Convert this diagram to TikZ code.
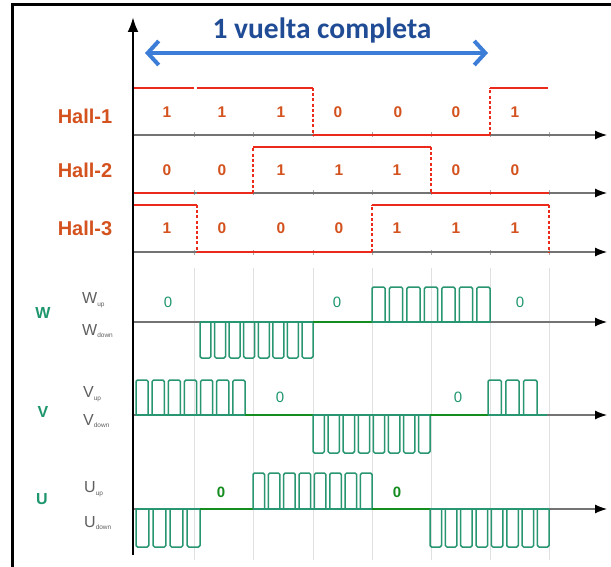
\documentclass[tikz,border=0pt]{standalone}
\usepackage{fontspec}
\setmainfont{Liberation Sans}
\newfontfamily\titlefont{Carlito}
\usetikzlibrary{arrows.meta}
\definecolor{hallred}{RGB}{236,42,28}
\definecolor{hallorange}{RGB}{212,82,30}
\definecolor{pwmteal}{RGB}{40,150,112}
\definecolor{zerogreen}{RGB}{20,140,30}
\definecolor{lblgreen}{RGB}{30,150,110}
\definecolor{titleblue}{RGB}{32,76,150}
\definecolor{arrowblue}{RGB}{60,125,215}
\definecolor{axisgray}{RGB}{115,115,115}
\definecolor{subgray}{RGB}{95,95,95}
\newcommand\pwmrun[5]{%
  \draw[pwm] (#1,#4) -- (#2,#4);
  \foreach \i in {1,...,#3}{%
    \pgfmathsetmacro\pp{(#2-#1)/(#3-0.25)}%
    \pgfmathsetmacro\xa{#1+(\i-1)*\pp}%
    \pgfmathsetmacro\xb{\xa+0.75*\pp}%
    \draw[pwm, rounded corners=1.5pt] (\xa,#4) -- (\xa,#5) -- (\xb,#5) -- (\xb,#4);
  }%
}
\tikzset{
  hall/.style={hallred, line width=2.4pt},
  halldash/.style={hallred, line width=2pt, dash pattern=on 3pt off 2.2pt},
  pwm/.style={pwmteal, line width=1.5pt, line join=round},
  zline/.style={zerogreen, line width=2.4pt},
  axisline/.style={axisgray, line width=1.2pt, -{Latex[length=12pt,width=9pt,color=black]}},
  hallnum/.style={text=hallorange, font=\fontsize{15.5}{15.5}\selectfont\bfseries},
  halllbl/.style={text=hallorange, font=\fontsize{20}{20}\selectfont\bfseries},
  phaselbl/.style={text=lblgreen, font=\fontsize{16}{16}\selectfont\bfseries},
  sublbl/.style={text=subgray, font=\fontsize{16}{16}\selectfont, anchor=west, inner sep=0pt},
  zerolbl/.style={text=lblgreen, font=\fontsize{15}{15}\selectfont},
  gridline/.style={black!12, line width=0.8pt}
}
\newcommand\sbs[1]{\raisebox{-2.5pt}{\fontsize{6.5}{6.5}\selectfont #1}}
\begin{document}
\begin{tikzpicture}[x=1pt,y=-1pt]
\useasboundingbox (0,0) rectangle (611,567);
\fill[white] (0,0) rectangle (611,567);
% frame
\draw[line width=3pt] (12,567) -- (12,5) -- (611,5);
% faint grid lines
\foreach \gx in {194,253,313,372,431,490,549}{
  \draw[gridline] (\gx,268) -- (\gx,560);
  \foreach \gy in {135,193,252}{ \draw[black!35, line width=0.8pt] (\gx,\gy-2.5) -- (\gx,\gy+2.5); }
}
% axes
\foreach \ay/\nm in {135/h1,193/h2,252/h3,322/w,415/v,509/u}{
  \coordinate (\nm s) at (133,\ay);
  \coordinate (\nm e) at (607,\ay);
  \draw[axisline] (\nm s) -- (\nm e);
}
% title & full-turn arrow
\node[text=titleblue, font=\titlefont\fontsize{29.5}{29.5}\selectfont\bfseries] (title) at (322,30) {1 vuelta completa};
\coordinate (turnL) at (145,53);
\coordinate (turnR) at (488,53);
\draw[arrowblue, line width=4pt, {Straight Barb[length=11pt,width=24pt]}-{Straight Barb[length=11pt,width=24pt]}] (turnL) -- (turnR);
% Hall-1
\draw[hall] (133,88) -- (194,88);
\draw[hall] (197,88) -- (313,88);
\draw[halldash] (313,88) -- (313,135);
\draw[hall] (313,135) -- (490,135);
\draw[halldash] (490,135) -- (490,88);
\draw[hall] (490,88) -- (548,88);
% Hall-2
\draw[hall] (133,193) -- (194,193);
\draw[hall] (197,193) -- (253,193);
\draw[halldash] (253,193) -- (253,147);
\draw[hall] (253,147) -- (431,147);
\draw[halldash] (431,147) -- (431,193);
\draw[hall] (431,193) -- (549,193);
% Hall-3
\draw[hall] (133,205) -- (197,205);
\draw[halldash] (197,205) -- (197,252);
\draw[hall] (197,252) -- (372,252);
\draw[halldash] (372,252) -- (372,205);
\draw[hall] (372,205) -- (549,205);
\draw[halldash] (549,205) -- (549,252);
% Hall labels
\node[halllbl] (lh1) at (85,116) {Hall-1};
\node[halllbl] (lh2) at (85,170) {Hall-2};
\node[halllbl] (lh3) at (85,228) {Hall-3};
\foreach \x/\t [count=\k] in {167/1,222/1,281/1,338/0,398/0,456/0,515/1}{ \node[hallnum] (ha\k) at (\x,112) {\t}; }
\foreach \x/\t [count=\k] in {167/0,222/0,281/1,339/1,397/1,456/0,515/0}{ \node[hallnum] (hb\k) at (\x,170) {\t}; }
\foreach \x/\t [count=\k] in {167/1,222/0,281/0,339/0,397/1,456/1,515/1}{ \node[hallnum] (hc\k) at (\x,228) {\t}; }
% W phase
\pwmrun{200}{313}{8}{322}{358}
\draw[zline] (313,322) -- (372,322);
\pwmrun{372}{490}{7}{322}{287}
% V phase
\pwmrun{136}{245}{7}{415}{380}
\draw[zline] (245,415) -- (313,415);
\pwmrun{313}{430}{8}{415}{453}
\draw[zline] (430,415) -- (488,415);
\pwmrun{488}{537}{3}{415}{380}
\draw[pwm] (537,415) -- (547,415);
% U phase
\pwmrun{136}{200}{4}{509}{547}
\draw[zline] (200,509) -- (253,509);
\pwmrun{253}{372}{8}{509}{473}
\draw[zline] (372,509) -- (430,509);
\pwmrun{430}{549}{8}{509}{547}
% main vertical axis
\coordinate (vbot) at (133,555);
\coordinate (vtop) at (133,17);
\draw[line width=2.6pt, -{Latex[length=15pt,width=11pt]}] (vbot) -- (vtop);
% phase labels
\node[phaselbl] (lw) at (43,313) {W};
\node[phaselbl] (lv) at (43,412) {V};
\node[phaselbl] (lu) at (42,499) {U};
\node[sublbl] (wup) at (82,300) {W\sbs{up}};
\node[sublbl] (wdn) at (82,331) {W\sbs{down}};
\node[sublbl] (vup) at (83,394) {V\sbs{up}};
\node[sublbl] (vdn) at (83,421) {V\sbs{down}};
\node[sublbl] (uup) at (84,489) {U\sbs{up}};
\node[sublbl] (udn) at (84,523) {U\sbs{down}};
% zero labels
\node[zerolbl] (zw1) at (168,302) {0};
\node[zerolbl] (zw2) at (337,302) {0};
\node[zerolbl] (zw3) at (520,302) {0};
\node[zerolbl] (zv1) at (280,397) {0};
\node[zerolbl] (zv2) at (458,397) {0};
\node[zerolbl, text=zerogreen, font=\fontsize{15}{15}\selectfont\bfseries] (zu1) at (221,492) {0};
\node[zerolbl, text=zerogreen, font=\fontsize{15}{15}\selectfont\bfseries] (zu2) at (397,492) {0};
\end{tikzpicture}
\end{document}
